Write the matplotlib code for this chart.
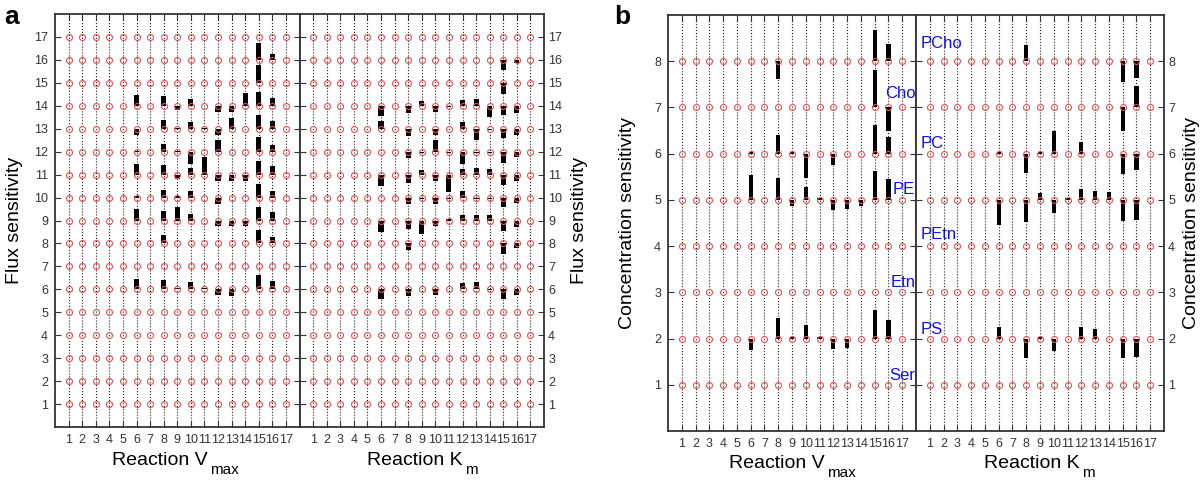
import numpy as np
import matplotlib.pyplot as plt

plt.rcParams['font.family'] = ['Liberation Sans', 'DejaVu Sans']

reactions = list(range(1, 18))
flux_rows = list(range(1, 18))
conc_rows = list(range(1, 9))
metabolites = ["Ser", "PS", "Etn", "PEtn", "PE", "PC", "Cho", "PCho"]
# where the metabolite names sit (y) and which half of panel b
label_y = [1.2, 2.19, 3.22, 4.25, 5.22, 6.23, 7.31, 8.39]
label_side = ["vmax", "km", "vmax", "km", "vmax", "km", "vmax", "km"]

# (reaction, row, sensitivity) - bar goes from row to row + sensitivity
flux_vmax = [
    (6, 14, .49), (6, 13, -.29), (6, 12, .05), (6, 11, .48), (6, 10, .05), (6, 9, .5), (6, 6, .45),
    (8, 14, .42), (8, 13, .39), (8, 12, .35), (8, 11, .42), (8, 10, .33), (8, 9, .41), (8, 8, .35), (8, 6, .41),
    (9, 14, -.19), (9, 13, .05), (9, 12, .05), (9, 11, -.19), (9, 10, .05), (9, 9, .58), (9, 6, .05),
    (10, 14, .3), (10, 13, .28), (10, 12, -.52), (10, 11, .28), (10, 10, .3), (10, 9, .29), (10, 6, .3),
    (11, 13, .05), (11, 11, .77), (11, 6, .05),
    (12, 14, -.25), (12, 13, -.28), (12, 12, .52), (12, 11, -.26), (12, 10, -.28), (12, 9, -.26), (12, 6, -.26),
    (13, 14, -.25), (13, 13, .48), (13, 11, -.26), (13, 9, -.26), (13, 6, -.31),
    (14, 14, .54), (14, 11, -.26), (14, 9, -.26),
    (15, 16, .73), (15, 15, .77), (15, 14, .6), (15, 13, .61), (15, 12, .65), (15, 11, .6),
    (15, 10, .61), (15, 9, .6), (15, 8, .6), (15, 6, .64),
    (16, 16, .26), (16, 14, .36), (16, 13, .32), (16, 12, .28), (16, 11, .36), (16, 10, .28),
    (16, 9, .36), (16, 8, .29), (16, 6, .35),
]
flux_km = [
    (6, 14, -.45), (6, 13, .32), (6, 11, -.48), (6, 9, -.48), (6, 6, -.41),
    (8, 14, -.33), (8, 13, -.3), (8, 12, -.26), (8, 11, -.35), (8, 10, -.28), (8, 9, -.35), (8, 8, -.29), (8, 6, -.3),
    (9, 14, .2), (9, 12, -.05), (9, 11, .2), (9, 10, -.05), (9, 9, -.58),
    (10, 14, -.25), (10, 13, -.28), (10, 12, .5), (10, 11, -.26), (10, 10, -.28), (10, 9, -.26), (10, 6, -.25),
    (11, 14, -.05), (11, 12, -.05), (11, 11, -.74), (11, 10, -.05), (11, 9, .05),
    (12, 14, .25), (12, 13, .28), (12, 12, -.52), (12, 11, .25), (12, 10, .28), (12, 9, .22), (12, 6, .29),
    (13, 14, .29), (13, 13, -.47), (13, 12, -.05), (13, 11, .28), (13, 10, -.05), (13, 9, .25), (13, 6, .32),
    (14, 14, -.48), (14, 13, -.05), (14, 12, -.05), (14, 11, .25), (14, 10, -.05), (14, 9, .26), (14, 6, -.04),
    (15, 16, -.45), (15, 15, -.47), (15, 14, -.41), (15, 13, -.41), (15, 12, -.48), (15, 11, -.45),
    (15, 10, -.42), (15, 9, -.44), (15, 8, -.44), (15, 6, -.41),
    (16, 16, -.15), (16, 14, -.3), (16, 13, -.26), (16, 12, -.23), (16, 11, -.3), (16, 10, -.22),
    (16, 9, -.29), (16, 8, -.19), (16, 6, -.25),
]
conc_vmax = [
    (6, 6, .04), (6, 5, .54), (6, 2, -.24),
    (8, 8, -.38), (8, 6, .4), (8, 5, .48), (8, 2, .44),
    (9, 6, .04), (9, 5, -.14), (9, 2, .04),
    (10, 6, -.52), (10, 5, .28), (10, 2, .29),
    (11, 5, .04), (11, 2, .04),
    (12, 6, -.25), (12, 5, -.22), (12, 2, -.22),
    (13, 5, -.19), (13, 2, -.21),
    (14, 5, -.14),
    (15, 8, .68), (15, 7, .81), (15, 6, .62), (15, 5, .62), (15, 2, .62),
    (16, 8, .37), (16, 7, -.52), (16, 6, .37), (16, 5, .45), (16, 2, .4),
]
conc_km = [
    (6, 6, .04), (6, 5, -.55), (6, 2, .26),
    (8, 8, .35), (8, 6, -.42), (8, 5, -.47), (8, 2, -.43),
    (9, 6, .04), (9, 5, .14), (9, 2, .04),
    (10, 6, .48), (10, 5, -.29), (10, 2, -.28),
    (11, 5, .04),
    (12, 6, .25), (12, 5, .23), (12, 2, .24),
    (13, 5, .19), (13, 2, .21),
    (14, 5, .16),
    (15, 8, -.46), (15, 7, -.5), (15, 6, -.45), (15, 5, -.45), (15, 2, -.43),
    (16, 8, -.37), (16, 7, .47), (16, 6, -.35), (16, 5, -.43), (16, 2, -.39),
]

W, H = 1200, 482
fig = plt.figure(figsize=(12, 4.82), dpi=100)

tick_col = '#333333'


def draw(ax, rows, bars, barw, side, ylabel, ypad):
    top = rows[-1] + 1
    ax.set_xlim(0, 18)
    ax.set_ylim(0, top)
    ax.vlines(reactions, 0, top, colors='#222222', linestyles=':', linewidth=0.8, zorder=1)
    bx = [b[0] for b in bars]
    by = [b[1] for b in bars]
    bv = [b[2] for b in bars]
    ax.bar(bx, bv, bottom=by, width=barw, color='black', zorder=2)
    gx, gy = np.meshgrid(reactions, rows)
    ax.plot(gx.ravel(), gy.ravel(), 'o', mfc='none', mec='#e65050',
            ms=4.3, mew=0.8, zorder=3)
    ax.set_xticks(reactions)
    ax.set_yticks(rows)
    ax.tick_params(axis='both', direction='in', length=4, labelsize=9,
                   labelcolor=tick_col, color='#333333', top=True, pad=5)
    if side == 'left':
        ax.tick_params(axis='y', left=True, right=True, labelleft=True)
    else:
        ax.tick_params(axis='y', left=True, right=True, labelleft=False,
                       labelright=True, pad=3)
        ax.yaxis.set_label_position('right')
    for s in ax.spines.values():
        s.set_linewidth(1.3)
        s.set_color('#333333')
    ax.set_ylabel(ylabel, fontsize=14, labelpad=ypad)


def xlabel(ax, main, sub, xend, drop):
    # MATLAB style label with a deep subscript
    h = ax.get_position().height * H
    ax.text(xend, -drop / h, main, transform=ax.transAxes, fontsize=14,
            ha='right', va='baseline')
    ax.text(xend + 2 / (ax.get_position().width * W), -(drop + 9) / h, sub,
            transform=ax.transAxes, fontsize=11, ha='left', va='baseline')


# panel a
ax1 = fig.add_axes([55 / W, 55 / H, 244.5 / W, 413 / H])
ax2 = fig.add_axes([299.5 / W, 55 / H, 244.5 / W, 413 / H])
draw(ax1, flux_rows, flux_vmax, 0.37, 'left', 'Flux sensitivity', 8)
draw(ax2, flux_rows, flux_km, 0.37, 'right', 'Flux sensitivity', 6)
xlabel(ax1, 'Reaction V', 'max', 0.626, 38)
xlabel(ax2, 'Reaction K', 'm', 0.669, 38)

# panel b
ax3 = fig.add_axes([668 / W, 51 / H, 248 / W, 416 / H])
ax4 = fig.add_axes([916 / W, 51 / H, 248 / W, 416 / H])
draw(ax3, conc_rows, conc_vmax, 0.31, 'left', 'Concentration sensitivity', 13)
draw(ax4, conc_rows, conc_km, 0.31, 'right', 'Concentration sensitivity', 6)
xlabel(ax3, 'Reaction V', 'max', 0.633, 37)
xlabel(ax4, 'Reaction K', 'm', 0.661, 37)

for name, y, side in zip(metabolites, label_y, label_side):
    if side == 'vmax':
        ax3.text(17.95, y, name, color='#1010ee', fontsize=12, ha='right', va='center', zorder=5)
    else:
        ax4.text(0.35, y, name, color='#1010ee', fontsize=12, ha='left', va='center', zorder=5)

fig.text(4 / W, 1 - 24 / H, 'a', fontsize=19, fontweight='bold', va='baseline')
fig.text(614 / W, 1 - 24 / H, 'b', fontsize=19, fontweight='bold', va='baseline')

fig.savefig('out.png', dpi=100)
